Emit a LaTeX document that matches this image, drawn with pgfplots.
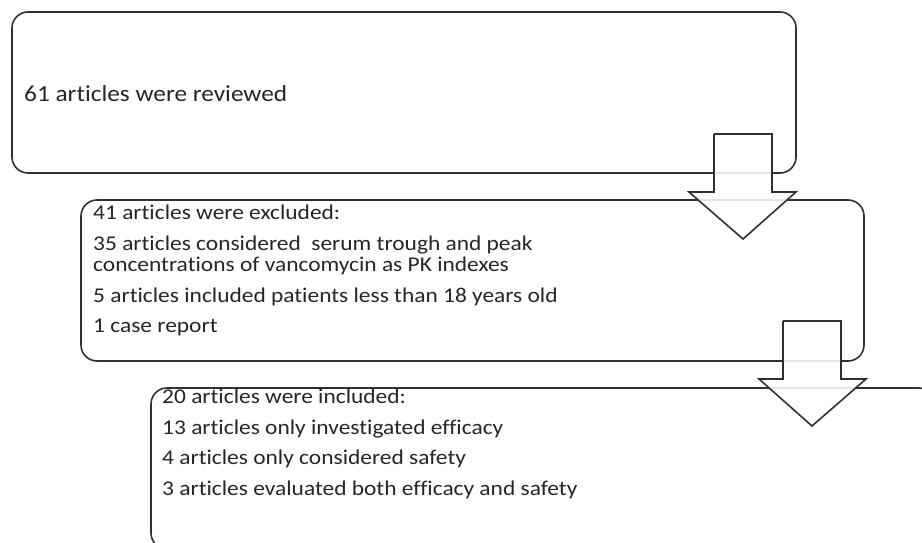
\documentclass[border=0pt]{standalone}
\usepackage{pgfplots}
\pgfplotsset{compat=1.18}
\usepackage{fontspec}
\setmainfont{Carlito}[Ligatures=NoCommon]
\definecolor{ln}{HTML}{303030}
\definecolor{tx}{HTML}{262626}
\begin{document}
\begin{tikzpicture}
\begin{axis}[
  width=922bp, height=543bp, scale only axis,
  xmin=0, xmax=922, ymin=0, ymax=543, y dir=reverse,
  hide axis, clip=true,
]
% boxes
\addplot[ln, line width=1.6pt, rounded corners=16bp, no marks] coordinates {(400,12) (796,12) (796,173) (12,173) (12,12) (400,12)};
\addplot[ln, line width=1.6pt, rounded corners=16bp, no marks] coordinates {(470,200) (864,200) (864,361) (81,361) (81,200) (470,200)};
\addplot[ln, line width=1.6pt, rounded corners=16bp, no marks] coordinates {(540,388) (935,388) (935,549) (151,549) (151,388) (540,388)};
% arrows
\addplot[ln, line width=1.6pt, fill=white, fill opacity=0.88, draw opacity=1, no marks] coordinates {(714,134) (772,134) (772,192) (796,192) (743,239) (689,192) (714,192) (714,134)};
\addplot[ln, line width=1.6pt, fill=white, fill opacity=0.88, draw opacity=1, no marks] coordinates {(783,321) (841,321) (841,379) (866,379) (812,426) (759,379) (783,379) (783,321)};
% texts
\tikzset{t/.style={anchor=base west, inner sep=0pt, text=tx}}
\node[t, xscale=1.1, font=\fontsize{23bp}{28bp}\selectfont] at (axis cs:24,101) {61 articles were reviewed};
\begin{scope}[every node/.style={t, xscale=1.115, font=\fontsize{21bp}{26bp}\selectfont}]
\node at (axis cs:93,219.5) {41 articles were excluded:};
\node at (axis cs:93,250) {35 articles considered\ \ serum trough and peak};
\node at (axis cs:93,271.5) {concentrations of vancomycin as PK indexes};
\node at (axis cs:93,302) {5 articles included patients less than 18 years old};
\node at (axis cs:93,332.5) {1 case report};
\node at (axis cs:162,403) {20 articles were included:};
\node at (axis cs:162,434) {13 articles only investigated efficacy};
\node at (axis cs:162,464.5) {4 articles only considered safety};
\node at (axis cs:162,495) {3 articles evaluated both efficacy and safety};
\end{scope}
\end{axis}
\pgfresetboundingbox
\path[use as bounding box] (current axis.south west) rectangle (current axis.north east);
\end{tikzpicture}
\end{document}
